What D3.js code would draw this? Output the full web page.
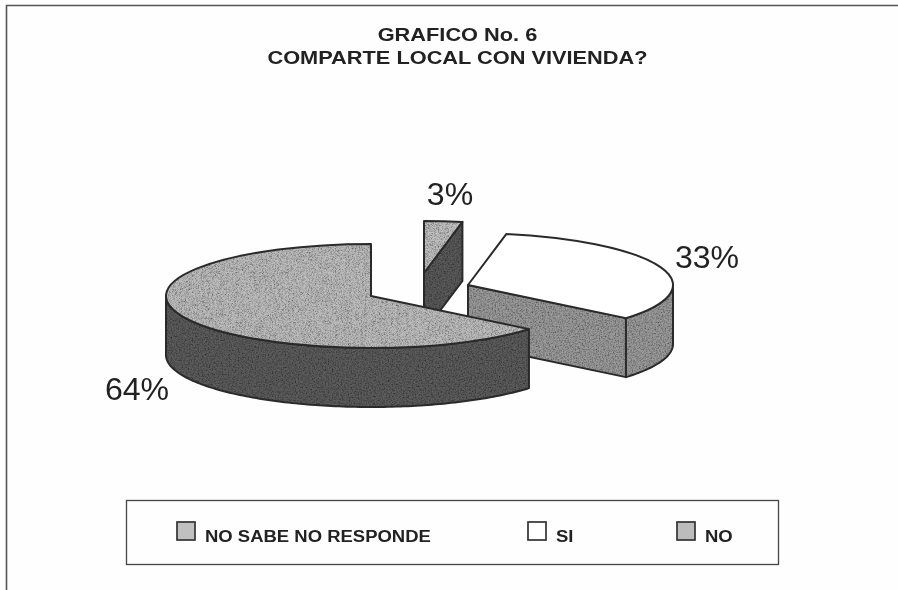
<!DOCTYPE html>
<html><head><meta charset="utf-8">
<script src="https://cdn.jsdelivr.net/npm/d3@7"></script>
<style>html,body{margin:0;padding:0;background:#fff}svg{display:block}text{font-family:"Liberation Sans",Arial,sans-serif;fill:#222}</style>
</head><body><svg id="c" width="898" height="590"></svg>
<script>
// Data
const categories = ["NO SABE NO RESPONDE", "SI", "NO"];
const values = [3, 33, 64];
const titleLines = ["GRAFICO No. 6", "COMPARTE LOCAL CON VIVIENDA?"];

// Per-slice styling and layout (order follows categories)
const topFill = ["#c0c0c0", "#ffffff", "#bcbcbc"];
const wallFill = ["#5a5a5a", "#9a9a9a", "#5c5c5c"];
const explode = [[53, -23], [97, -11], [0, 0]];
const labelPos = [[450, 205], [707, 268], [137, 400]];
const swatchX = [177, 528, 677], legendTextX = [205, 556, 705];

const W = 898, H = 590;
const cx = 371, cy = 296, rx = 205, ry = 52, depth = 59;
const svg = d3.select("#c");
const defs = svg.append("defs");
const f = defs.append("filter").attr("id", "speck").attr("x", 0).attr("y", 0).attr("width", 1).attr("height", 1);
f.append("feTurbulence").attr("type", "fractalNoise").attr("baseFrequency", 0.7).attr("numOctaves", 2).attr("seed", 4).attr("result", "n");
f.append("feColorMatrix").attr("in", "n").attr("type", "matrix")
  .attr("values", "0 0 0 0 0  0 0 0 0 0  0 0 0 0 0  1.6 0 0 0 -0.62").attr("result", "d");
f.append("feComposite").attr("in", "d").attr("in2", "SourceGraphic").attr("operator", "in").attr("result", "dd");
f.append("feMerge").selectAll("feMergeNode").data(["SourceGraphic", "dd"]).join("feMergeNode").attr("in", d => d);
const soft = defs.append("filter").attr("id", "soft").attr("filterUnits", "userSpaceOnUse")
  .attr("x", 0).attr("y", 0).attr("width", W).attr("height", H);
soft.append("feGaussianBlur").attr("stdDeviation", 0.65);

const root = svg.append("g").attr("filter", "url(#soft)");
root.append("rect").attr("width", W).attr("height", H).attr("fill", "#fefefe");
root.append("path").attr("d", `M6.5,${H} V5.5 H${W}`).attr("fill", "none").attr("stroke", "#555").attr("stroke-width", 1.6);

root.append("g").selectAll("text").data(titleLines).join("text")
  .attr("transform", (d, i) => `translate(457.5,${40.5 + i * 23.5}) scale(1.21,1)`)
  .attr("text-anchor", "middle").attr("font-size", 18).attr("font-weight", "bold").text(d => d);

// Pie geometry from d3.pie
const arcs = d3.pie().sort(null)(values);
const rScale = d3.scaleLinear().domain([0, 1]).range([0, rx]);
const pt = (a, r = 1) => [rScale(r) * Math.sin(a), -(ry / rx) * rScale(r) * Math.cos(a)];
const line = d3.line();
const arcGen = d3.arc().innerRadius(0).outerRadius(rx);
const strokeW = 2;

function face(g, d, fill) {
  g.append("path").attr("d", d).attr("fill", fill).attr("filter", fill === "#ffffff" ? null : "url(#speck)");
  g.append("path").attr("d", d).attr("fill", "none").attr("stroke", "#2a2a2a").attr("stroke-width", strokeW).attr("stroke-linejoin", "round");
}
function sweep(a0, a1) {
  const n = Math.max(2, Math.ceil(Math.abs(a1 - a0) / 0.02));
  return d3.range(n + 1).map(i => pt(a0 + (a1 - a0) * i / n));
}
function radialWall(g, a, fill) {
  const p = pt(a);
  face(g, line([[0, 0], p, [p[0], p[1] + depth], [0, depth]]) + "Z", fill);
}
function outerWall(g, a0, a1, fill) {
  const lo = Math.max(a0, Math.PI / 2), hi = Math.min(a1, Math.PI * 1.5);
  if (hi <= lo) return;
  const up = sweep(lo, hi), down = up.map(p => [p[0], p[1] + depth]).reverse();
  face(g, line(up.concat(down)) + "Z", fill);
}

// Paint back to front: small slice, then SI, then NO
arcs.forEach((a, i) => {
  const g = root.append("g").attr("transform", `translate(${cx + explode[i][0]},${cy + explode[i][1]})`);
  if (a.endAngle < Math.PI) radialWall(g, a.endAngle, wallFill[i]);
  if (a.startAngle > Math.PI) radialWall(g, a.startAngle, wallFill[i]);
  outerWall(g, a.startAngle, a.endAngle, wallFill[i]);
  const top = g.append("g").attr("transform", `scale(1,${ry / rx})`);
  const d = arcGen(a);
  top.append("path").attr("d", d).attr("fill", topFill[i]).attr("filter", topFill[i] === "#ffffff" ? null : "url(#speck)");
  top.append("path").attr("d", d).attr("fill", "none").attr("stroke", "#2a2a2a").attr("stroke-width", strokeW)
    .attr("stroke-linejoin", "round").attr("vector-effect", "non-scaling-stroke");
});

root.append("g").selectAll("text").data(values).join("text")
  .attr("transform", (d, i) => `translate(${labelPos[i][0]},${labelPos[i][1]}) scale(1.035,1)`)
  .attr("text-anchor", "middle").attr("font-size", 31).attr("fill", "#333")
  .text(d => d3.format(".0%")(d / 100));

// Legend
root.append("rect").attr("x", 126.5).attr("y", 500.5).attr("width", 652).attr("height", 64)
  .attr("fill", "none").attr("stroke", "#444").attr("stroke-width", 1.3);
const lg = root.append("g").selectAll("g").data(categories).join("g");
lg.append("rect").attr("x", (d, i) => swatchX[i]).attr("y", 522).attr("width", 18).attr("height", 18)
  .attr("fill", (d, i) => topFill[i]).attr("stroke", "#333").attr("stroke-width", 1.7);
lg.append("text").attr("transform", (d, i) => `translate(${legendTextX[i]},542) scale(1.087,1)`)
  .attr("font-size", 17).attr("font-weight", "bold").text(d => d);
</script></body></html>
